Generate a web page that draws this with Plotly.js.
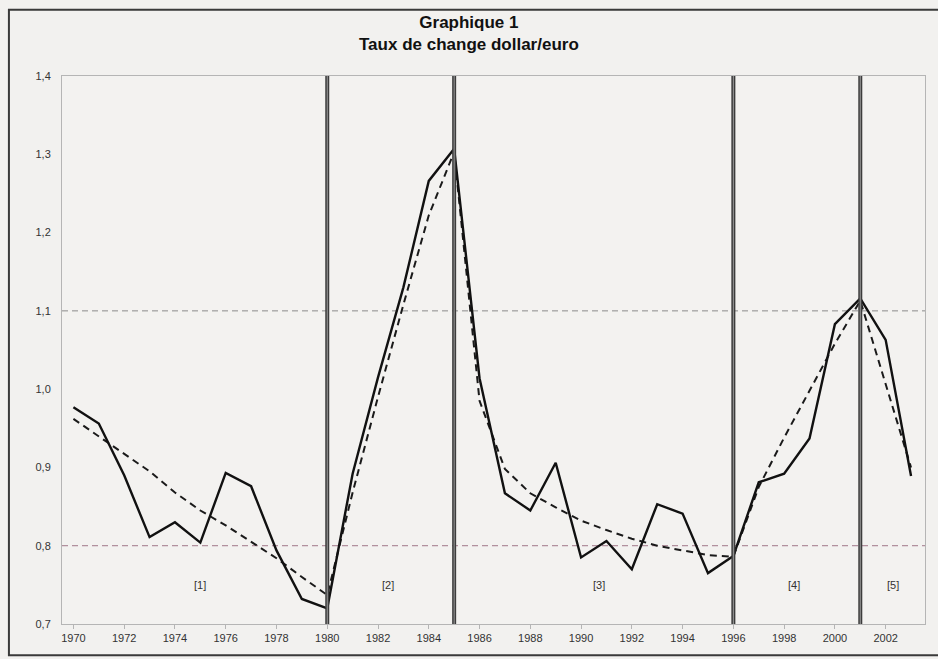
<!DOCTYPE html>
<html>
<head>
<meta charset="utf-8">
<script src="https://cdn.plot.ly/plotly-3.0.1.min.js"></script>
<style>
  html, body { margin: 0; padding: 0; background: #f2f1ef; }
  #chart { width: 938px; height: 659px; }
</style>
</head>
<body>
<div id="chart"></div>
<script>
// ---- data ----
const years = [1970,1971,1972,1973,1974,1975,1976,1977,1978,1979,
               1980,1981,1982,1983,1984,1985,1986,1987,1988,1989,
               1990,1991,1992,1993,1994,1995,1996,1997,1998,1999,
               2000,2001,2002,2003];
const rate = [0.977,0.956,0.890,0.811,0.830,0.804,0.893,0.876,0.794,0.732,
              0.720,0.892,1.015,1.130,1.266,1.307,1.014,0.867,0.845,0.906,
              0.785,0.806,0.770,0.853,0.841,0.765,0.787,0.881,0.892,0.937,
              1.083,1.116,1.063,0.889];
const trend = [0.962,0.940,0.918,0.895,0.868,0.845,0.826,0.805,0.784,0.760,
               0.737,0.868,0.990,1.108,1.222,1.303,0.985,0.898,0.867,0.849,
               0.832,0.820,0.809,0.800,0.794,0.788,0.786,0.875,0.938,0.998,
               1.058,1.113,1.008,0.900];
const breakYears = [1980, 1985, 1996, 2001];
const periodLabels = ['[1]','[2]','[3]','[4]','[5]'];
const refLevels = [1.1, 0.8];
const yTicks = [0.7,0.8,0.9,1.0,1.1,1.2,1.3,1.4];
const yTickText = ['0,7','0,8','0,9','1,0','1,1','1,2','1,3','1,4'];
const xTicks = [1970,1972,1974,1976,1978,1980,1982,1984,1986,1988,1990,1992,1994,1996,1998,2000,2002];
const titleLines = ['Graphique 1', 'Taux de change dollar/euro'];

// ---- presentation ----
const labelX = [1975.0, 1982.4, 1990.7, 1998.4, 2002.3];
const refColors = ['#8c8c8c', '#a0788a'];
const FONT = 'Liberation Sans, Arial, sans-serif';

const traces = [
  {x: years, y: trend, type: 'scatter', mode: 'lines',
   line: {color: '#1a1a1a', width: 2, dash: '7px,5px'}, hoverinfo: 'skip'},
  {x: years, y: rate, type: 'scatter', mode: 'lines',
   line: {color: '#111', width: 2.4}, hoverinfo: 'skip'}
];

const shapes = [];
refLevels.forEach((lv, i) => shapes.push({
  type: 'line', xref: 'paper', yref: 'y', x0: 0, x1: 1, y0: lv, y1: lv,
  line: {color: refColors[i], width: 1, dash: '6px,4px'}, layer: 'below'
}));
breakYears.forEach(yr => {
  shapes.push({type: 'line', xref: 'x', yref: 'paper', x0: yr, x1: yr, y0: 0, y1: 1,
    line: {color: '#3c3c3c', width: 4}, layer: 'above'});
  shapes.push({type: 'line', xref: 'x', yref: 'paper', x0: yr, x1: yr, y0: 0, y1: 1,
    line: {color: '#9a9a9a', width: 1}, layer: 'above'});
});
// outer frame
shapes.push({type: 'rect', xref: 'paper', yref: 'paper',
  x0: -0.0615, x1: 1.03, y0: -0.057, y1: 1.121,
  line: {color: '#3a3a3a', width: 2}, fillcolor: 'rgba(0,0,0,0)', layer: 'below'});

const annotations = periodLabels.map((t, i) => ({
  x: labelX[i], y: 0.75, xref: 'x', yref: 'y', text: t, showarrow: false,
  font: {family: FONT, size: 11, color: '#333'}
}));
annotations.push({
  xref: 'paper', yref: 'paper', x: 0.4716, y: 1.0776,
  xanchor: 'center', yanchor: 'middle', showarrow: false,
  text: titleLines.map(s => '<b>' + s + '</b>').join('<br>'),
  font: {family: FONT, size: 17, color: '#111'}
});

const layout = {
  width: 938, height: 659,
  paper_bgcolor: '#f2f1ef', plot_bgcolor: '#f3f2f0',
  margin: {l: 62, r: 13, t: 76, b: 35},
  showlegend: false,
  title: {text: ''},
  xaxis: {
    range: [1969.55, 2003.55], tickvals: xTicks, ticktext: xTicks.map(String),
    showgrid: false, zeroline: false, showline: true, mirror: true,
    linecolor: '#b5b5b5', linewidth: 1,
    ticks: 'outside', ticklen: 4, tickcolor: '#b5b5b5',
    tickfont: {family: FONT, size: 11, color: '#333'}
  },
  yaxis: {
    range: [0.7, 1.4], tickvals: yTicks, ticktext: yTickText,
    showgrid: false, zeroline: false, showline: true, mirror: true,
    linecolor: '#b5b5b5', linewidth: 1,
    ticks: 'outside', ticklen: 8, tickcolor: 'rgba(0,0,0,0)',
    tickfont: {family: FONT, size: 11, color: '#333'}
  },
  shapes: shapes,
  annotations: annotations
};

Plotly.newPlot('chart', traces, layout, {displayModeBar: false, staticPlot: true});
</script>
</body>
</html>
